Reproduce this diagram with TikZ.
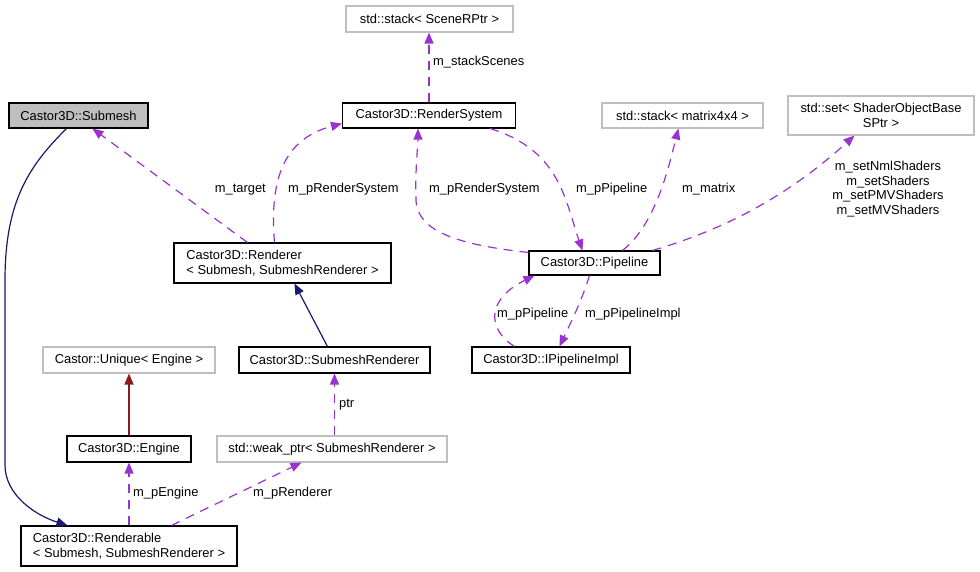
\documentclass[tikz,border=0pt]{standalone}
\usepackage{fontspec}
\setmainfont{Liberation Sans}
\usetikzlibrary{arrows.meta,calc}
\definecolor{edgepurple}{HTML}{9A32CD}
\definecolor{inhnavy}{HTML}{191970}
\definecolor{tmplred}{HTML}{8B1A1A}
\definecolor{grayb}{HTML}{BFBFBF}
\begin{document}
\begin{tikzpicture}[x=1pt,y=-1pt,
  font=\fontsize{12.9}{15.5}\selectfont,
  cls/.style={draw=black, line width=1.1pt, inner sep=0pt, align=center, fill=white},
  ext/.style={cls, draw=grayb},
  tip/.style={-{Triangle[length=11pt,width=9pt]}},
  assoc/.style={draw=edgepurple, line width=1.2pt, dash pattern=on 9pt off 7pt, tip, color=edgepurple},
  inh/.style={draw=inhnavy, line width=1.2pt, tip, color=inhnavy},
  tmpl/.style={draw=tmplred, line width=1.2pt, tip, color=tmplred},
  lab/.style={inner sep=0pt, anchor=west, text height=9.5pt, text depth=2.5pt},
]
\useasboundingbox[fill=white] (0,0) rectangle (980,572);

% nodes
\node[cls, fill=grayb, minimum width=139, minimum height=25] (submesh) at (78.5,115.5) {Castor3D::Submesh};
\node[cls, minimum width=173, minimum height=25] (rendersys) at (429,115.5) {Castor3D::RenderSystem};
\node[ext, minimum width=167, minimum height=26] (scenestack) at (429.5,19) {std::stack< SceneRPtr >};
\node[cls, align=left, minimum width=217, minimum height=40] (renderer) at (282.5,263) {Castor3D::Renderer\\< Submesh, SubmeshRenderer >};
\node[ext, minimum width=161, minimum height=25] (matstack) at (682.5,115.5) {std::stack< matrix4x4 >};
\node[ext, minimum width=186, minimum height=39] (shaderset) at (881,115.5) {std::set< ShaderObjectBase\\SPtr >};
\node[cls, minimum width=131, minimum height=24] (pipeline) at (594.5,263) {Castor3D::Pipeline};
\node[cls, minimum width=158, minimum height=26] (ipimpl) at (551,360) {Castor3D::IPipelineImpl};
\node[ext, minimum width=172, minimum height=26] (unique) at (129,360) {Castor::Unique< Engine >};
\node[cls, minimum width=191, minimum height=26] (subrend) at (334.5,360) {Castor3D::SubmeshRenderer};
\node[cls, minimum width=124, minimum height=26] (engine) at (129,449) {Castor3D::Engine};
\node[ext, minimum width=230, minimum height=26] (weakptr) at (332,449) {std::weak\_ptr< SubmeshRenderer >};
\node[cls, align=left, minimum width=216, minimum height=40] (renderable) at (129,546) {Castor3D::Renderable\\< Submesh, SubmeshRenderer >};

% edges
\draw[inh] ($(submesh.south west)+(58,0)$) .. controls (30,165) and (5,200) .. (5,280) -- (5,465) .. controls (5,495) and (35,515) .. ($(renderable.north west)+(47,0)$);
\draw[assoc] ($(renderer.north west)+(74,0)$) -- ($(submesh.south west)+(84,0)$);
\draw[assoc] ($(renderer.north west)+(101,0)$) .. controls (270,185) and (280,140) .. ($(rendersys.south west)+(0,-5)$);
\draw[assoc] ($(pipeline.north west)+(0,2)$) .. controls (460,245) and (417,232) .. (416,200) .. controls (415,170) and (418,145) .. ($(rendersys.south west)+(76,0)$);
\draw[assoc] ($(rendersys.south east)+(-26,0)$) .. controls (560,150) and (565,200) .. ($(pipeline.north west)+(54,0)$);
\draw[assoc] ($(pipeline.north west)+(94,0)$) .. controls (655,225) and (668,170) .. ($(matstack.south west)+(77,0)$);
\draw[assoc] ($(pipeline.north east)+(-8,0)$) .. controls (740,225) and (800,185) .. ($(shaderset.south west)+(67,0)$);
\draw[assoc] ($(pipeline.south west)+(61,0)$) .. controls (582,300) and (572,320) .. ($(ipimpl.north west)+(88,0)$);
\draw[assoc] ($(ipimpl.north west)+(43,0)$) .. controls (488,330) and (485,300) .. ($(pipeline.south west)+(6,0)$);
\draw[assoc] (rendersys.north) -- (rendersys.north |- scenestack.south);
\draw[inh] ($(subrend.north west)+(89,0)$) -- ($(renderer.south west)+(121,0)$);
\draw[assoc] (weakptr.north -| subrend.south) -- (subrend.south);
\draw[tmpl] (engine.north) -- (unique.south);
\draw[assoc] (renderable.north) -- (engine.south);
\draw[assoc] ($(renderable.north west)+(151,0)$) -- ($(weakptr.south west)+(85,0)$);

% labels
\node[lab, anchor=east] (l1) at (266,189) {m\_target};
\node[lab] (l2) at (288,189) {m\_pRenderSystem};
\node[lab] (l3) at (429,189) {m\_pRenderSystem};
\node[lab] (l4) at (576,189) {m\_pPipeline};
\node[lab] (l5) at (682,189) {m\_matrix};
\node[inner sep=0pt, align=center, font=\fontsize{12.9}{14.5}\selectfont] (l6) at (888,189) {m\_setNmlShaders\\m\_setShaders\\m\_setPMVShaders\\m\_setMVShaders};
\node[lab] (l7) at (433,62) {m\_stackScenes};
\node[lab] (l8) at (497,314) {m\_pPipeline};
\node[lab] (l9) at (585,314) {m\_pPipelineImpl};
\node[lab] (l10) at (339,404) {ptr};
\node[lab] (l11) at (133,493) {m\_pEngine};
\node[lab] (l12) at (253,493) {m\_pRenderer};
\end{tikzpicture}
\end{document}
